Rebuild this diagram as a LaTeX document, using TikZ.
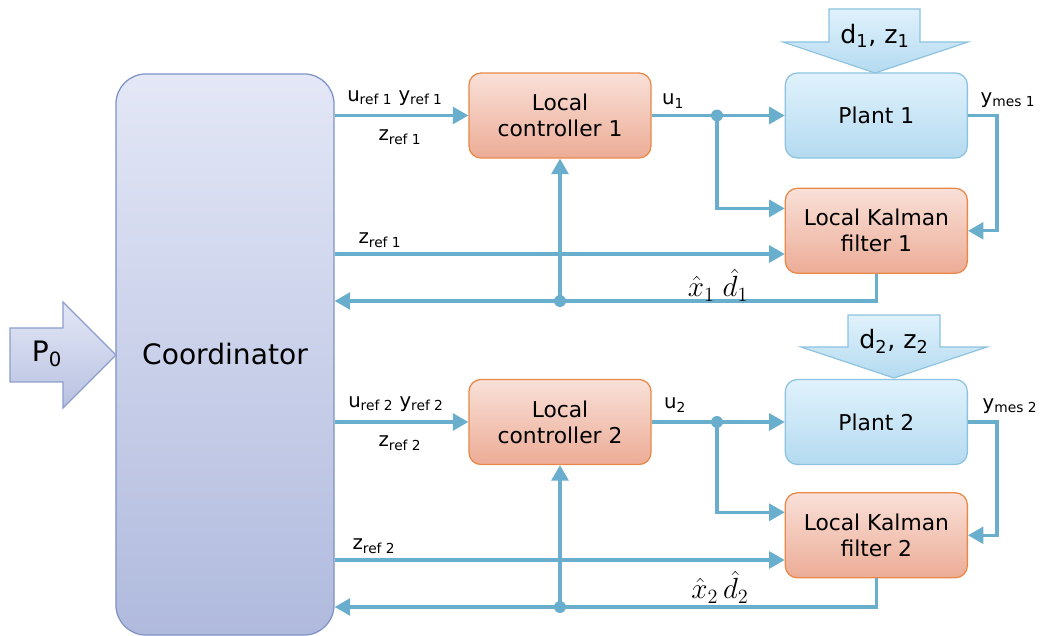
\documentclass[tikz,border=0pt]{standalone}
\usepackage[no-math]{fontspec}
\setmainfont{DejaVu Sans}
\usetikzlibrary{arrows.meta,positioning,calc}

\definecolor{linkblue}{RGB}{106,174,205}
\definecolor{ctrltop}{RGB}{249,224,216}
\definecolor{ctrlbot}{RGB}{236,172,150}
\definecolor{ctrlline}{RGB}{232,137,74}
\definecolor{planttop}{RGB}{224,242,252}
\definecolor{plantbot}{RGB}{180,218,240}
\definecolor{plantline}{RGB}{141,195,223}
\definecolor{coordtop}{RGB}{227,231,246}
\definecolor{coordbot}{RGB}{176,186,221}
\definecolor{coordline}{RGB}{127,147,198}

\begin{document}
\begin{tikzpicture}[x=0.025cm,y=-0.025cm,
        box/.style={rectangle,rounded corners=0.3cm,minimum width=4.55cm,minimum height=2.125cm,
                    align=center,line width=0.9pt,font=\fontsize{15.5}{18.5}\selectfont},
        ctrl/.style={box,draw=ctrlline,top color=ctrltop,bottom color=ctrlbot},
        plant/.style={box,draw=plantline,top color=planttop,bottom color=plantbot},
        coordbox/.style={rectangle,rounded corners=0.75cm,minimum width=5.45cm,minimum height=14.025cm,
                    draw=coordline,line width=0.9pt,top color=coordtop,bottom color=coordbot,
                    font=\fontsize{20}{24}\selectfont},
        bigarrow/.style={line width=0.8pt,line join=miter},
        link/.style={draw=linkblue,line width=2.2pt,-{Triangle[length=11pt,width=12pt]}},
        dot/.style={circle,fill=linkblue,inner sep=0pt,minimum size=8.5pt},
        lbl/.style={inner sep=0pt,font=\fontsize{14}{16}\selectfont},
        est/.style={inner sep=0pt,font=\fontsize{20.74}{24}\selectfont}]
   \useasboundingbox (0,0) rectangle (1042,636);

   % coordinator and input P0
   \node[coordbox] (coord) at (225,354.5) {Coordinator};
   \draw[bigarrow,draw=coordline!90,top color=coordtop,bottom color=coordbot!90]
      (10,328) -- (63,328) -- (63,302) -- (116,355) -- (63,408) -- (63,382) -- (10,382) -- cycle;
   \node[font=\fontsize{20}{24}\selectfont] (pin) at (47,354) {P\textsubscript{0}};

   % subsystem 1
   \node[ctrl] (ctrlA) at (560,115.5) {Local\\controller 1};
   \node[plant] (plantA) [right=3.325cm of ctrlA] {Plant 1};
   \node[ctrl] (kalA) [below=0.725cm of plantA] {Local Kalman\\filter 1};
   \draw[bigarrow,draw=plantline,top color=planttop,bottom color=plantbot]
      (829,9) -- (920,9) -- (920,42) -- (968,42) -- (875,73) -- (783,42) -- (829,42) -- cycle;
   \node[font=\fontsize{18}{22}\selectfont] (distA) at (875,36) {d\textsubscript{1}, z\textsubscript{1}};

   % subsystem 2
   \node[ctrl] (ctrlB) at (560,422) {Local\\controller 2};
   \node[plant] (plantB) [right=3.325cm of ctrlB] {Plant 2};
   \node[ctrl] (kalB) [below=0.675cm of plantB] {Local Kalman\\filter 2};
   \draw[bigarrow,draw=plantline,top color=planttop,bottom color=plantbot]
      (848,315) -- (940,315) -- (940,347) -- (987,347) -- (894,378) -- (801,347) -- (848,347) -- cycle;
   \node[font=\fontsize{18}{22}\selectfont] (distB) at (894,341) {d\textsubscript{2}, z\textsubscript{2}};

   % connectors 1
   \coordinate (jA) at (717,115.5);
   \coordinate (fA) at (560,301);
   \draw[link] (coord.east |- ctrlA) -- (ctrlA);
   \draw[link] (ctrlA) -- (plantA);
   \draw[link] (jA) |- ([yshift=0.56cm]kalA.west);
   \draw[link] (plantA.east) -- ++(29,0) |- (kalA.east);
   \draw[link] (coord.east |- 0,254) -- (kalA.west |- 0,254);
   \draw[link] (kalA.south) |- (coord.east |- fA);
   \draw[link] (fA) -- (ctrlA.south);
   \node[dot] at (jA) {};
   \node[dot] at (fA) {};

   % connectors 2
   \coordinate (jB) at (717,422);
   \coordinate (fB) at (560,607);
   \draw[link] (coord.east |- ctrlB) -- (ctrlB);
   \draw[link] (ctrlB) -- (plantB);
   \draw[link] (jB) |- ([yshift=0.575cm]kalB.west);
   \draw[link] (plantB.east) -- ++(29,0) |- (kalB.east);
   \draw[link] (coord.east |- 0,560) -- (kalB.west |- 0,560);
   \draw[link] (kalB.south) |- (coord.east |- fB);
   \draw[link] (fB) -- (ctrlB.south);
   \node[dot] at (jB) {};
   \node[dot] at (fB) {};

   % labels
   \node[lbl] (refA) at (395,98) {u\textsubscript{ref 1} y\textsubscript{ref 1}};
   \node[lbl] (zrefA) at (400,137) {z\textsubscript{ref 1}};
   \node[lbl] (zkalA) at (380,240) {z\textsubscript{ref 1}};
   \node[lbl] (uA) at (673,101) {u\textsubscript{1}};
   \node[lbl] (ymesA) at (1008,100) {y\textsubscript{mes 1}};
   \node[est] (estA) at (718,285) {$\hat{x}_1\;\hat{d}_1$};
   \node[lbl] (refB) at (396,404) {u\textsubscript{ref 2} y\textsubscript{ref 2}};
   \node[lbl] (zrefB) at (400,443) {z\textsubscript{ref 2}};
   \node[lbl] (zkalB) at (374,546) {z\textsubscript{ref 2}};
   \node[lbl] (uB) at (675,405) {u\textsubscript{2}};
   \node[lbl] (ymesB) at (1010,406) {y\textsubscript{mes 2}};
   \node[est] (estB) at (720,587) {$\hat{x}_2\,\hat{d}_2$};
\end{tikzpicture}
\end{document}
